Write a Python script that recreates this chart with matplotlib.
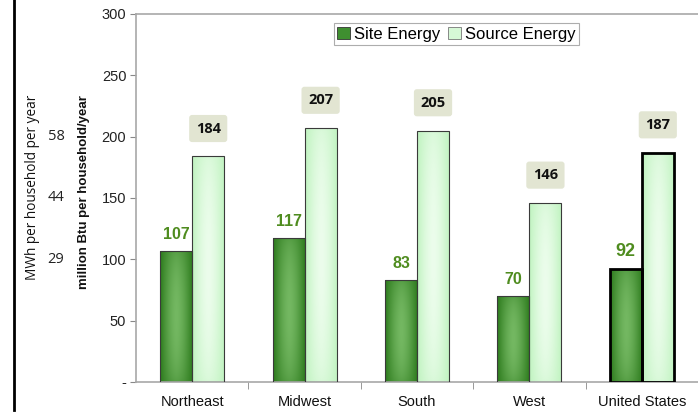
"""Household site vs. source energy use by US census region."""

import matplotlib.pyplot as plt
import numpy as np
from matplotlib.colors import to_rgb
from matplotlib.lines import Line2D
from matplotlib.patches import Patch
from matplotlib.transforms import blended_transform_factory

regions = ["Northeast", "Midwest", "South", "West", "United States"]
site_energy = [107, 117, 83, 70, 92]
source_energy = [184, 207, 205, 146, 187]

# secondary scale: MWh per household per year at the given million-Btu levels
mwh_at = [100, 150, 200]
mwh_labels = ["29", "44", "58"]

SITE_DARK, SITE_LIGHT = "#2c7a1c", "#74b862"
SRC_DARK, SRC_LIGHT = "#bff3bf", "#ecfdec"
SITE_LABEL = "#4f8c1f"
BOX_FILL = "#e2e5d2"


def gradient_fill(ax, bar, dark, light):
    """Paint a bar with a soft light-in-the-middle gradient."""
    x0, y0 = bar.get_x(), bar.get_y()
    w, h = bar.get_width(), bar.get_height()
    xs = np.linspace(0, 1, 60)
    ys = np.linspace(0, 1, 120)
    fx = 1 - np.abs(2 * xs - 1) ** 1.6
    fy = 0.55 + 0.45 * np.sin(np.pi * ys) ** 0.6
    t = np.outer(fy, fx)[..., None]
    c0 = np.array(to_rgb(dark))
    c1 = np.array(to_rgb(light))
    img = c0 + (c1 - c0) * t
    im = ax.imshow(img, extent=(x0, x0 + w, y0, y0 + h), origin="lower",
                   aspect="auto", interpolation="bilinear", zorder=2)
    im.set_clip_path(bar)


fig = plt.figure(figsize=(6.98, 4.12), dpi=100)
ax = fig.add_axes([136 / 698, 30 / 412, 562 / 698, 368 / 412])

x = np.arange(len(regions))
width = 0.285
edge_w = [0.8] * (len(regions) - 1) + [2.0]
edge_c = ["#3a3a3a"] * (len(regions) - 1) + ["black"]

site_bars = ax.bar(x - width / 2, site_energy, width, color=SITE_DARK,
                   edgecolor=edge_c, linewidth=edge_w, zorder=3)
src_bars = ax.bar(x + width / 2, source_energy, width, color=SRC_DARK,
                  edgecolor=edge_c, linewidth=edge_w, zorder=3)
for b in site_bars:
    b.set_facecolor("none")
    gradient_fill(ax, b, SITE_DARK, SITE_LIGHT)
for b in src_bars:
    b.set_facecolor("none")
    gradient_fill(ax, b, SRC_DARK, SRC_LIGHT)

for i, (b, v) in enumerate(zip(site_bars, site_energy)):
    us = i == len(regions) - 1
    ax.annotate(str(v), (b.get_x() + b.get_width() / 2, v),
                xytext=(0, 13 if us else 12), textcoords="offset points",
                ha="center", va="center", color=SITE_LABEL,
                fontsize=13 if us else 11.5, fontweight="bold",
                family="Liberation Sans", zorder=5)
for b, v in zip(src_bars, source_energy):
    ax.annotate(str(v), (b.get_x() + b.get_width() / 2, v),
                xytext=(0, 20), textcoords="offset points",
                ha="center", va="center", color="#111111",
                fontsize=10.5, fontweight="bold", family="Open Sans",
                bbox=dict(boxstyle="round,pad=0.45,rounding_size=0.2",
                          fc=BOX_FILL, ec="none"), zorder=5)

ax.set_xlim(-0.5, len(regions) - 0.5)
ax.set_ylim(0, 300)
ax.set_yticks([0, 50, 100, 150, 200, 250, 300])
ax.set_yticklabels(["-", "50", "100", "150", "200", "250", "300"],
                   family="Liberation Sans", fontsize=10.5, color="#222222")
ax.set_xticks(x)
ax.set_xticklabels(regions, family="Liberation Sans", fontsize=10.5,
                   color="#111111")
ax.set_xticks(np.arange(len(regions) - 1) + 0.5, minor=True)
ax.tick_params(axis="x", which="major", length=0, pad=9)
ax.tick_params(axis="x", which="minor", length=5, color="#888888")
ax.tick_params(axis="y", length=4, color="#888888", pad=3)

for side in ("left", "bottom", "top"):
    ax.spines[side].set_color("#a8a8a8")
    ax.spines[side].set_linewidth(1.2)
ax.spines["right"].set_visible(False)

fig.text(84 / 698, 1 - 192 / 412, "million Btu per household/year",
         rotation=90, ha="center", va="center", family="Liberation Sans",
         fontweight="bold", fontsize=9.5, color="#111111")

# MWh equivalents, placed left of the main axis label
mwh_trans = blended_transform_factory(fig.transFigure, ax.transData)
for yv, lab in zip(mwh_at, mwh_labels):
    ax.text(56 / 698, yv, lab, transform=mwh_trans, ha="center",
            va="center", family="Open Sans", fontsize=10.5, color="#222222")
fig.text(33 / 698, 1 - 187 / 412, "MWh per household per year",
         rotation=90, ha="center", va="center", family="Open Sans",
         fontsize=9.8, color="#111111")

handles = [Patch(facecolor="#3f8f30", edgecolor="#333333", linewidth=0.6),
           Patch(facecolor="#d6f8d6", edgecolor="#777777", linewidth=0.6)]
leg = ax.legend(handles, ["Site Energy", "Source Energy"], ncol=2,
                loc="upper center", bbox_to_anchor=(0.57, 0.975),
                frameon=True, fancybox=False, edgecolor="#999999",
                prop={"family": "Liberation Sans", "size": 12},
                handlelength=0.75, handleheight=0.75, handletextpad=0.25,
                columnspacing=0.5, borderpad=0.2, borderaxespad=0)
leg.get_frame().set_linewidth(0.8)

fig.add_artist(Line2D([14 / 698, 14 / 698], [2 / 412, 1], color="black",
                      linewidth=2, transform=fig.transFigure))

fig.savefig("out.png", dpi=100)
